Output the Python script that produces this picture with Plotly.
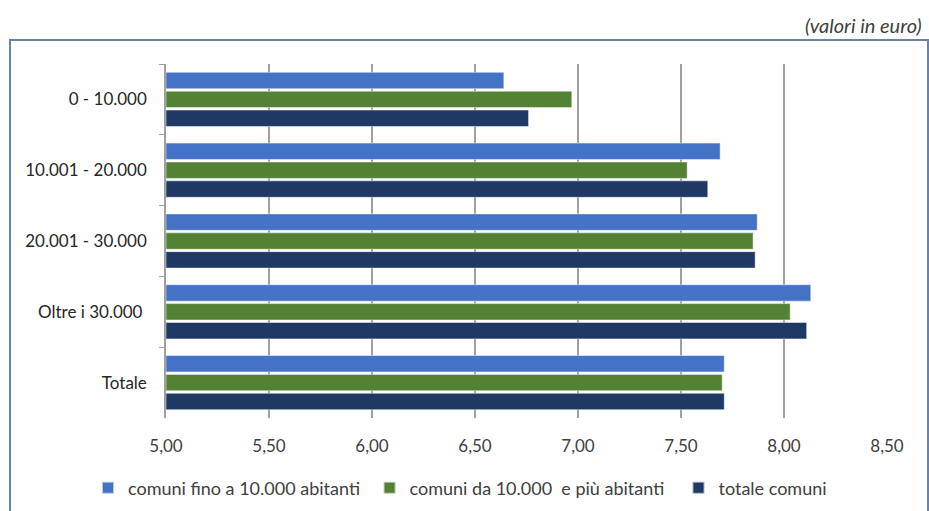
import plotly.graph_objects as go

categories = ["0 - 10.000", "10.001 - 20.000", "20.001 - 30.000", "Oltre i 30.000 ", "Totale"]
series_names = ["comuni fino a 10.000 abitanti", "comuni da 10.000  e più abitanti", "totale comuni"]
fino_10000 = [6.64, 7.69, 7.87, 8.13, 7.71]
da_10000 = [6.97, 7.53, 7.85, 8.03, 7.70]
totale = [6.76, 7.63, 7.86, 8.11, 7.71]
tick_vals = [5.0, 5.5, 6.0, 6.5, 7.0, 7.5, 8.0, 8.5]
tick_text = ["5,00", "5,50", "6,00", "6,50", "7,00", "7,50", "8,00", "8,50"]

colors = ["#4472C4", "#548235", "#203864"]
legend_pad = ["\u00a0", "\u00a0\u00a0", ""]
FONT = "Lato"
FS = 17

fig = go.Figure()
for name, pad, vals, col in zip(series_names, legend_pad, [fino_10000, da_10000, totale], colors):
    fig.add_trace(go.Bar(
        y=categories, x=[v - 5.0 for v in vals], base=5.0, orientation="h",
        name=name + pad, marker=dict(color=col, line=dict(color="rgba(255,255,255,0.6)", width=0.8)),
        hovertemplate="%{y}: %{x:.2f}<extra></extra>",
    ))

fig.update_layout(
    width=929, height=511,
    margin=dict(l=166, r=42, t=64, b=93, autoexpand=False),
    paper_bgcolor="white", plot_bgcolor="white",
    barmode="group", bargap=0.2, bargroupgap=0.13,
    font=dict(family=FONT, size=FS, color="#404040"),
    showlegend=True,
    legend=dict(orientation="h", x=(130 - 42 - 166) / 721, xanchor="left", y=(418 - 488) / 354, yanchor="middle",
                font=dict(family=FONT, size=18, color="#404040"),
                itemwidth=30, traceorder="normal", itemsizing="constant"),
    xaxis=dict(range=[5.0, 8.5], tickvals=tick_vals, ticktext=tick_text, automargin=False,
               showgrid=True, gridcolor="#a0a0a0", gridwidth=1.5,
               zeroline=False, showline=False, ticks="", ticklabelstandoff=16,
               tickfont=dict(family=FONT, size=FS, color="#404040")),
    yaxis=dict(autorange="reversed", showline=True, linecolor="#a0a0a0", linewidth=1.5, automargin=False,
               ticks="outside", tickson="boundaries", ticklen=5, tickcolor="#a0a0a0",
               ticklabelstandoff=14,
               tickfont=dict(family=FONT, size=FS, color="#262626")),
    shapes=[dict(type="rect", xref="paper", yref="paper",
                 x0=(10 - 166) / 721, x1=(928 - 166) / 721,
                 y0=(418 - 530) / 354, y1=(418 - 40) / 354,
                 line=dict(color="#6b82ad", width=2), fillcolor="rgba(0,0,0,0)", layer="below")],
    annotations=[dict(text="<i>(valori in euro)</i>", xref="paper", yref="paper",
                      x=(924 - 166) / 721, y=(418 - 25) / 354, xanchor="right", yanchor="middle",
                      showarrow=False, font=dict(family=FONT, size=20, color="#404040"))],
)

fig.write_html("out.html", config={"displayModeBar": False},
               post_script="document.body.style.margin='0';")
